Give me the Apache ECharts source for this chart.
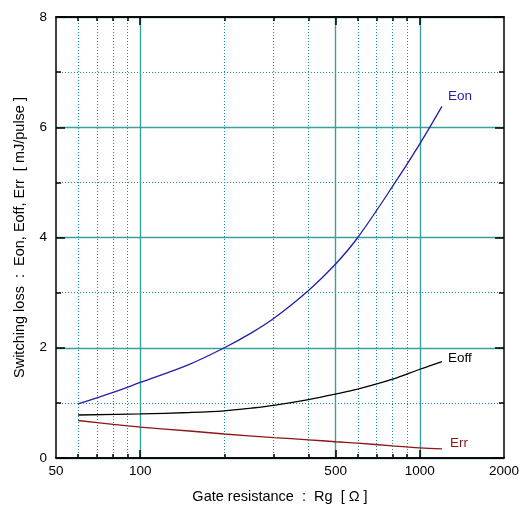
<!DOCTYPE html>
<html>
<head>
<meta charset="utf-8">
<script src="https://cdn.jsdelivr.net/npm/echarts@6/dist/echarts.min.js"></script>
<style>
html,body{margin:0;padding:0;background:#fff;}
#chart{width:522px;height:511px;}
</style>
</head>
<body>
<div id="chart"></div>
<script>
// Gate resistance (ohm) sample points
const rgEon  = [60, 80, 100, 150, 200, 250, 300, 400, 500, 600, 800, 1000, 1200];
const eon    = [0.98, 1.19, 1.37, 1.70, 2.00, 2.27, 2.53, 3.04, 3.52, 4.00, 4.93, 5.70, 6.38];
const rgEoff = [60, 100, 150, 200, 250, 300, 400, 500, 600, 800, 1000, 1200];
const eoff   = [0.78, 0.80, 0.825, 0.855, 0.905, 0.955, 1.06, 1.16, 1.25, 1.43, 1.61, 1.75];
const rgErr  = [60, 80, 100, 150, 200, 300, 400, 500, 600, 800, 1000, 1200];
const err    = [0.68, 0.61, 0.56, 0.49, 0.435, 0.37, 0.33, 0.295, 0.27, 0.22, 0.185, 0.165];

const xLabels     = [50, 100, 500, 1000, 2000];
const xMajorGrid  = [100, 500, 1000];
const xMinorGrid  = [60, 70, 80, 90, 200, 300, 400, 600, 700, 800, 900];
const yTicks      = [0, 2, 4, 6, 8];

const FONT = 'Liberation Sans, Arial, sans-serif';
const TEAL_SOLID = '#3a9f9f';
const TEAL_DOT = '#1a8f8f';

function pairs(xs, ys){ return xs.map((x,i)=>[x, ys[i]]); }

function xAxisDef(pos, major, withSplit, labels){
  return {
    type: 'log', logBase: 10, min: 50, max: 2000, position: pos,
    axisLine: {show: true, onZero: false, lineStyle: {color: '#000', width: 1.5}},
    axisTick: {show: true, inside: true, length: major ? 8 : 4,
      customValues: major ? xMajorGrid : xMinorGrid,
      lineStyle: {color: '#000', width: 1.5}},
    axisLabel: labels ? {show: true, customValues: xLabels, color: '#000', fontSize: 13.5,
      fontFamily: FONT, margin: 6, formatter: v => String(Math.round(v))} : {show: false},
    splitLine: withSplit ? {show: true, lineStyle: major ?
      {color: TEAL_SOLID, width: 1.4, type: 'solid'} :
      {color: TEAL_DOT, width: 1, type: [1, 2]}} : {show: false},
    minorTick: {show: false}, minorSplitLine: {show: false}
  };
}

const chart = echarts.init(document.getElementById('chart'), null, {renderer: 'canvas'});
const base0 = xAxisDef('bottom', true, true, true);
base0.name = 'Gate resistance  :  Rg  [ Ω ]';
base0.nameLocation = 'middle';
base0.nameGap = 31;
base0.nameTextStyle = {color: '#000', fontSize: 14.5, fontFamily: FONT};

chart.setOption({
  animation: false,
  backgroundColor: '#fff',
  grid: {left: 56, right: 17, top: 17, bottom: 53, containLabel: false},
  xAxis: [
    base0,
    xAxisDef('bottom', false, true, false),
    xAxisDef('top', true, false, false),
    xAxisDef('top', false, false, false)
  ],
  yAxis: [
    {
      type: 'value', min: 0, max: 8, interval: 2, position: 'left',
      name: 'Switching loss  :  Eon, Eoff, Err  [ mJ/pulse ]',
      nameLocation: 'middle', nameGap: 29,
      nameTextStyle: {color: '#000', fontSize: 14.5, fontFamily: FONT},
      axisLine: {show: true, lineStyle: {color: '#000', width: 1.5}},
      axisTick: {show: true, inside: true, length: 9, lineStyle: {color: '#000', width: 1.5}},
      minorTick: {show: true, splitNumber: 2, length: 5, lineStyle: {color: '#000', width: 1.5}},
      axisLabel: {color: '#000', fontSize: 13.5, fontFamily: FONT, margin: 9,
        customValues: yTicks},
      splitLine: {show: true, lineStyle: {color: TEAL_SOLID, width: 1.4}},
      minorSplitLine: {show: true, lineStyle: {color: TEAL_DOT, width: 1, type: [1, 2]}}
    },
    {
      type: 'value', min: 0, max: 8, interval: 2, position: 'right',
      axisLine: {show: true, lineStyle: {color: '#000', width: 1.5}},
      axisTick: {show: true, inside: true, length: 9, lineStyle: {color: '#000', width: 1.5}},
      minorTick: {show: true, splitNumber: 2, length: 5, lineStyle: {color: '#000', width: 1.5}},
      axisLabel: {show: false},
      splitLine: {show: false}, minorSplitLine: {show: false}
    }
  ],
  series: [
    {
      name: 'Eon', type: 'line', smooth: 0.35, symbol: 'none',
      xAxisIndex: 0, yAxisIndex: 0, data: pairs(rgEon, eon),
      lineStyle: {color: '#1f1fa8', width: 1.3},
      endLabel: {show: true, formatter: '{a}', color: '#1f1fa8', fontSize: 13.5,
        fontFamily: FONT, distance: 0, offset: [6, -10]}
    },
    {
      name: 'Eoff', type: 'line', smooth: 0.35, symbol: 'none',
      xAxisIndex: 0, yAxisIndex: 0, data: pairs(rgEoff, eoff),
      lineStyle: {color: '#000', width: 1.3},
      endLabel: {show: true, formatter: '{a}', color: '#000', fontSize: 13.5,
        fontFamily: FONT, distance: 0, offset: [6, -3]}
    },
    {
      name: 'Err', type: 'line', smooth: 0.35, symbol: 'none',
      xAxisIndex: 0, yAxisIndex: 0, data: pairs(rgErr, err),
      lineStyle: {color: '#8e1616', width: 1.3},
      endLabel: {show: true, formatter: '{a}', color: '#8e1616', fontSize: 13.5,
        fontFamily: FONT, distance: 0, offset: [8, -6]}
    }
  ]
});
</script>
</body>
</html>
